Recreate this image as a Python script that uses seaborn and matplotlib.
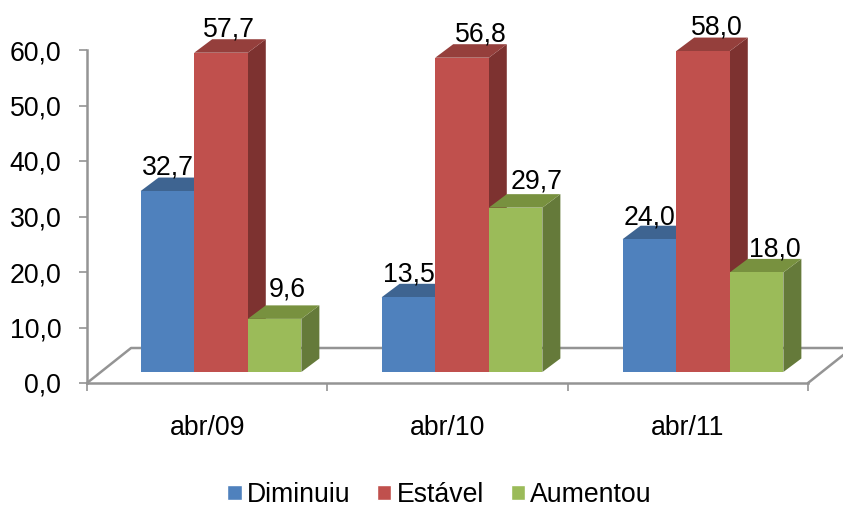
import matplotlib
matplotlib.use('Agg')
import matplotlib.pyplot as plt
from matplotlib.patches import Polygon
import pandas as pd
import seaborn as sns

# valores
periodos = ['abr/09', 'abr/10', 'abr/11']
diminuiu = [32.7, 13.5, 24.0]
estavel = [57.7, 56.8, 58.0]
aumentou = [9.6, 29.7, 18.0]
yticks = [0, 10, 20, 30, 40, 50, 60]

W, H = 843, 507
FONT = 19.2
GRAY = '#949494'

cores = {'Diminuiu': '#4F81BD', 'Estável': '#C0504D', 'Aumentou': '#9BBB59'}
cores_topo = {'Diminuiu': '#3E6491', 'Estável': '#953F3C', 'Aumentou': '#78913F'}
cores_lado = {'Diminuiu': '#335378', 'Estável': '#7D3230', 'Aumentou': '#657A3A'}

# ajuste dos rotulos em pixels (o original tem rotulos movidos a mao)
nudge_x = {'Diminuiu': [1, 1, 0], 'Estável': [8, 19, 14], 'Aumentou': [13, 21, 18]}
nudge_y = {'Diminuiu': [3, 2, 1], 'Estável': [3, 3, 3], 'Aumentou': [9, 6, 2]}

df = pd.DataFrame({
    'periodo': periodos * 3,
    'resposta': ['Diminuiu'] * 3 + ['Estável'] * 3 + ['Aumentou'] * 3,
    'valor': diminuiu + estavel + aumentou,
})

sns.set_theme(style='white')
plt.rcParams['font.family'] = ['Liberation Sans', 'DejaVu Sans']


def px_axes(fig, left, right, bottom, top):
    return fig.add_axes([left / W, (H - bottom) / H, (right - left) / W, (bottom - top) / H])


fig = plt.figure(figsize=(W / 100, H / 100), dpi=100)

# eixo de tras: escala, ticks e o "piso" 3D
ax = px_axes(fig, 87, 808, 383, 50)
ax.set_xlim(0, 3)
ax.set_ylim(0, 60)
ax.set_yticks(yticks)
ax.set_yticklabels([f'{v:.1f}'.replace('.', ',') for v in yticks], fontsize=FONT, color='black')
ax.set_xticks([0, 1, 2, 3])
ax.set_xticklabels([])
ax.set_xticks([0.5, 1.5, 2.5], periodos, minor=True, fontsize=FONT, color='black')
ax.tick_params(axis='y', length=6, width=1.2, color=GRAY, pad=12.5, left=True)
ax.tick_params(axis='x', which='major', length=6, width=1.2, color=GRAY, bottom=True)
ax.tick_params(axis='x', which='minor', length=0, pad=23)
for lado in ['top', 'right']:
    ax.spines[lado].set_visible(False)
for lado in ['left', 'bottom']:
    ax.spines[lado].set_color(GRAY)
    ax.spines[lado].set_linewidth(1.8)

piso_x, piso_y = 44 / 240, 35 / (333 / 60)
ax.plot([0, piso_x, 3 + piso_x], [0, piso_y, piso_y], color=GRAY, lw=1.8, clip_on=False, zorder=1)
ax.plot([3, 3 + piso_x], [0, piso_y], color=GRAY, lw=1.8, clip_on=False, zorder=1)

# eixo das barras: plano da frente, deslocado em relacao ao piso
ax_b = px_axes(fig, 100.5, 823.5, 372, 40)
ax_b.patch.set_alpha(0)
sns.barplot(data=df, x='periodo', y='valor', hue='resposta', order=periodos,
            hue_order=list(cores), palette=cores, saturation=1, width=0.667,
            gap=0, errorbar=None, ax=ax_b)
ax_b.set_xlim(-0.5, 2.5)
ax_b.set_ylim(0, 60)

dx = 18 / (723 / 3)
dy = 13.5 / (332 / 60)

for i, (nome, cont) in enumerate(zip(cores, ax_b.containers)):
    for j, bar in enumerate(cont):
        x0, x1, h = bar.get_x(), bar.get_x() + bar.get_width(), bar.get_height()
        bar.set_zorder(3 + i * 3)
        bar.set_linewidth(0)
        ax_b.add_patch(Polygon([(x1, 0), (x1 + dx, dy), (x1 + dx, h + dy), (x1, h)],
                               facecolor=cores_lado[nome], lw=0, clip_on=False, zorder=2 + i * 3))
        ax_b.add_patch(Polygon([(x0, h), (x0 + dx, h + dy), (x1 + dx, h + dy), (x1, h)],
                               facecolor=cores_topo[nome], lw=0, clip_on=False, zorder=2 + i * 3))
        ax_b.annotate(f'{h:.1f}'.replace('.', ','), ((x0 + x1) / 2, h + dy),
                      xytext=(nudge_x[nome][j] * 0.72, nudge_y[nome][j] * 0.72),
                      textcoords='offset points', ha='center', va='baseline',
                      fontsize=FONT, color='black', zorder=20, annotation_clip=False)

ax_b.axis('off')

sns.move_legend(ax_b, 'center', bbox_to_anchor=(439.5 / W, (H - 495) / H),
                bbox_transform=fig.transFigure, ncol=3, frameon=False, title=None,
                fontsize=FONT, labelcolor='black', handlelength=0.53, handleheight=0.53,
                handletextpad=0.2, columnspacing=1.0, borderpad=0, borderaxespad=0)

fig.savefig('out.png', dpi=100)
